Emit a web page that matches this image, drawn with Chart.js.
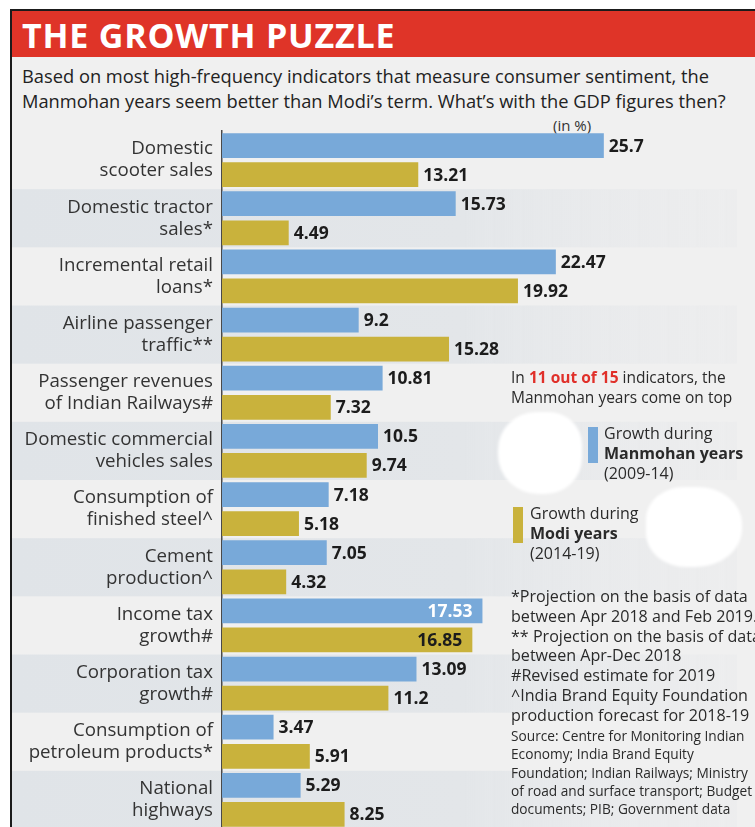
<!DOCTYPE html>
<html>
<head>
<meta charset="utf-8">
<title>The growth puzzle</title>
<script src="https://cdn.jsdelivr.net/npm/chart.js@4.4.1/dist/chart.umd.min.js"></script>
<style>
  html, body { margin: 0; padding: 0; width: 755px; height: 827px; overflow: hidden; background: #fff; }
  body { position: relative; font-family: "Open Sans", "DejaVu Sans", sans-serif; color: #262626; }
  #frame { position: absolute; left: 10px; top: 9px; width: 745px; height: 830px; border-left: 2px solid #1b1b1b; border-top: 2px solid #1b1b1b; background: #f0f0f0; }
  #titlebar { position: absolute; left: 12px; top: 11px; width: 743px; height: 46px; background: #df3428; }
  #titlebar h1 { margin: 0; position: absolute; left: 10px; top: 0; line-height: 48px; font-size: 34px; font-weight: 700; color: #fff; letter-spacing: 0.8px; }
  #subtitle { position: absolute; left: 22px; top: 63px; font-size: 18.3px; line-height: 25px; color: #222; white-space: nowrap; }
  #unit { position: absolute; left: 553px; top: 115px; font-size: 15px; color: #333; }
  #chartBox { position: absolute; left: 12px; top: 128px; }
  .note { position: absolute; white-space: nowrap; color: #2a2a2a; }
  .note b.red { color: #e0302a; }
  .blob { position: absolute; background: #fff; filter: blur(1.5px); }
  .swatch { position: absolute; width: 10px; height: 36px; }
</style>
</head>
<body>
<div id="frame"></div>
<div id="titlebar"><h1>THE GROWTH PUZZLE</h1></div>
<div id="subtitle">Based on most high-frequency indicators that measure consumer sentiment, the<br>Manmohan years seem better than Modi’s term. What’s with the GDP figures then?</div>
<div id="unit">(in %)</div>

<div id="chartBox"><canvas id="growthChart" width="743" height="701"></canvas></div>

<div class="note" style="left:511px; top:367px; font-size:15.5px; line-height:20px;">In <b class="red">11 out of 15</b> indicators, the<br>Manmohan years come on top</div>

<div class="blob" style="left:498px; top:412px; width:84px; height:82px; border-radius:46% 40% 44% 48%;"></div>
<div class="blob" style="left:646px; top:487px; width:96px; height:80px; border-radius:40% 46% 48% 42%;"></div>

<div class="swatch" style="left:588px; top:427px; background:#78a9d9;"></div>
<div class="note" style="left:604px; top:423px; font-size:16px; line-height:20px;">Growth during<br><b>Manmohan years</b><br>(2009-14)</div>
<div class="swatch" style="left:513px; top:507px; background:#c9b23c;"></div>
<div class="note" style="left:530px; top:503px; font-size:16px; line-height:20px;">Growth during<br><b>Modi years</b><br>(2014-19)</div>

<div class="note" style="left:511px; top:587px; font-size:16.1px; line-height:19.8px;">*Projection on the basis of data<br>between Apr 2018 and Feb 2019.<br>** Projection on the basis of data<br>between Apr-Dec 2018<br>#Revised estimate for 2019<br>^India Brand Equity Foundation<br>production forecast for 2018-19</div>
<div class="note" style="left:511px; top:727px; font-size:13.7px; line-height:18.3px;">Source: Centre for Monitoring Indian<br>Economy; India Brand Equity<br>Foundation; Indian Railways; Ministry<br>of road and surface transport; Budget<br>documents; PIB; Government data</div>

<script>
// indicators, top to bottom
const categories = [
  ['Domestic', 'scooter sales'],
  ['Domestic tractor', 'sales*'],
  ['Incremental retail', 'loans*'],
  ['Airline passenger', 'traffic**'],
  ['Passenger revenues', 'of Indian Railways#'],
  ['Domestic commercial', 'vehicles sales'],
  ['Consumption of', 'finished steel^'],
  ['Cement', 'production^'],
  ['Income tax', 'growth#'],
  ['Corporation tax', 'growth#'],
  ['Consumption of', 'petroleum products*'],
  ['National', 'highways']
];

// growth in %
const manmohanGrowth = [25.7, 15.73, 22.47, 9.2, 10.81, 10.5, 7.18, 7.05, 17.53, 13.09, 3.47, 5.29];
const modiGrowth = [13.21, 4.49, 19.92, 15.28, 7.32, 9.74, 5.18, 4.32, 16.85, 11.2, 5.91, 8.25];

const BLUE = '#78a9d9';
const GOLD = '#c9b23c';
const CANVAS_LEFT = 12, CANVAS_TOP = 128;
const NOTES_LEFT = 505 - CANVAS_LEFT;   // side notes start here
const NOTES_TOP = 360 - CANVAS_TOP;

// alternating row bands, drawn before the axis so the labels sit on top
const rowBands = {
  id: 'rowBands',
  beforeDraw(chart) {
    const { ctx, chartArea } = chart;
    const step = (chartArea.bottom - chartArea.top) / categories.length;
    ctx.save();
    categories.forEach((c, i) => {
      if (i % 2 === 0) return;
      const top = chartArea.top + i * step;
      const g = ctx.createLinearGradient(0, 0, 730, 0);
      g.addColorStop(0, '#e0e4e8');
      g.addColorStop(0.62, '#e3e6e9');
      g.addColorStop(1, 'rgba(233,234,236,0.4)');
      ctx.fillStyle = g;
      ctx.fillRect(0, top, 725, step);
    });
    ctx.restore();
  }
};

// value printed at the end of each bar; pushed inside when it would run into the notes
const barValues = {
  id: 'barValues',
  afterDatasetsDraw(chart) {
    const { ctx } = chart;
    ctx.save();
    ctx.font = 'bold 17.5px "Open Sans", sans-serif';
    ctx.textBaseline = 'middle';
    chart.data.datasets.forEach((ds, di) => {
      chart.getDatasetMeta(di).data.forEach((bar, i) => {
        const txt = String(ds.data[i]);
        const w = ctx.measureText(txt).width;
        const inside = bar.y > NOTES_TOP && bar.x + 5 + w > NOTES_LEFT;
        if (inside) {
          ctx.textAlign = 'right';
          ctx.fillStyle = di === 0 ? '#ffffff' : '#1c1c1c';
          ctx.fillText(txt, bar.x - 10, bar.y + 1);
        } else {
          ctx.textAlign = 'left';
          ctx.fillStyle = '#1c1c1c';
          ctx.fillText(txt, bar.x + 5, bar.y + 1);
        }
      });
    });
    ctx.restore();
  }
};

new Chart(document.getElementById('growthChart'), {
  type: 'bar',
  data: {
    labels: categories,
    datasets: [
      { label: 'Growth during Manmohan years (2009-14)', data: manmohanGrowth, backgroundColor: BLUE },
      { label: 'Growth during Modi years (2014-19)', data: modiGrowth, backgroundColor: GOLD }
    ]
  },
  options: {
    indexAxis: 'y',
    responsive: false,
    animation: false,
    devicePixelRatio: 1,
    layout: { padding: { top: 3, right: 13, bottom: 0, left: 0 } },
    datasets: { bar: { barPercentage: 0.85, categoryPercentage: 1 } },
    plugins: { legend: { display: false }, tooltip: { enabled: false } },
    scales: {
      x: { min: 0, max: 35, display: false },
      y: {
        grid: { display: false, drawTicks: false },
        border: { display: true, color: '#4a4a4a', width: 1.5 },
        ticks: {
          color: '#333333',
          padding: 9,
          font: { family: '"Open Sans", sans-serif', size: 18.7, lineHeight: 1.18 }
        },
        afterFit(scale) {
          scale.width = 210;
          // rows run edge to edge; no extra room for half labels
          scale.paddingTop = 0;
          scale.paddingBottom = 0;
        }
      }
    }
  },
  plugins: [rowBands, barValues]
});
</script>
</body>
</html>
